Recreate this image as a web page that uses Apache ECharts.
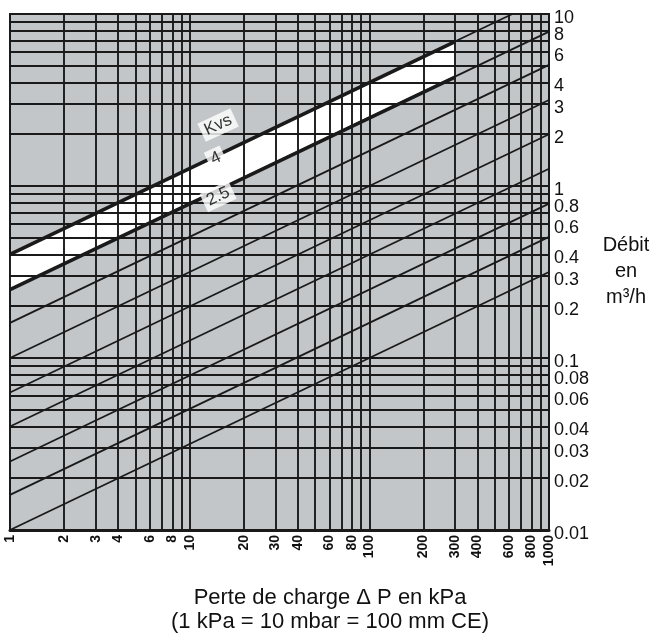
<!DOCTYPE html>
<html><head><meta charset="utf-8">
<script src="https://cdn.jsdelivr.net/npm/echarts@6/dist/echarts.min.js"></script>
<style>html,body{margin:0;padding:0;background:#fff}#c{width:652px;height:639px}</style>
</head><body><div id="c"></div>
<script>
// grid lines (log minor grid) and tick labels
const xGridValues = [1,2,3,4,5,6,7,8,9,10,20,30,40,50,60,70,80,90,100,200,300,400,500,600,700,800,900,1000];
const xTickLabels = [1,2,3,4,6,8,10,20,30,40,60,80,100,200,300,400,600,800,1000];
const yGridValues = [0.01,0.02,0.03,0.04,0.05,0.06,0.07,0.08,0.09,0.1,0.2,0.3,0.4,0.5,0.6,0.7,0.8,0.9,1,2,3,4,5,6,7,8,9,10];
const yTickLabels = [0.01,0.02,0.03,0.04,0.06,0.08,0.1,0.2,0.3,0.4,0.6,0.8,1,2,3,4,6,10];
const yTickLabelsExtra = [8];

// Kvs lines: read end points (ΔP in kPa, flow in m3/h)
const kvsNames    = ['0.1','0.16','0.25','0.4','0.63','1','1.6','2.5','4'];
const lineStartDP = [1,1,1,1,1,1,1,1,1];
const lineStartQ  = [0.01,0.016,0.025,0.04,0.063,0.1,0.16,0.25,0.4];
const lineEndDP   = [1000,1000,1000,1000,1000,1000,1000,1000,625];
const lineEndQ    = [0.316,0.506,0.79,1.26,2.0,3.16,5.06,7.9,10];

// highlighted band between Kvs 4 and Kvs 2.5
const bandDP     = [1,300];
const bandUpperQ = [0.4,6.9];
const bandLowerQ = [0.25,4.3];

// in-chart labels
const kvsLabelTexts = ['Kvs','4','2.5'];
const kvsLabelDP    = [14.4,14,14.4];
const kvsLabelQ     = [2.26,1.45,0.87];

const FONT = 'Liberation Sans, Arial, sans-serif';
const DARK = '#1a1a1a';

const series = [];
series.push({
  type: 'custom', z: 1, silent: true,
  data: [0],
  renderItem: function (params, api) {
    const pts = [
      api.coord([bandDP[0], bandUpperQ[0]]),
      api.coord([bandDP[1], bandUpperQ[1]]),
      api.coord([bandDP[1], bandLowerQ[1]]),
      api.coord([bandDP[0], bandLowerQ[0]])
    ];
    return { type: 'polygon', shape: { points: pts }, style: { fill: '#ffffff' } };
  }
});
kvsNames.forEach(function (n, i) {
  series.push({
    type: 'line', name: 'Kvs ' + n, z: 4, silent: true, symbol: 'none',
    data: [[lineStartDP[i], lineStartQ[i]], [lineEndDP[i], lineEndQ[i]]],
    lineStyle: { color: DARK, width: 1.8 }
  });
});
series.push({
  type: 'line', z: 4, silent: true, symbol: 'none',
  data: [[bandDP[0], bandUpperQ[0]], [bandDP[1], bandUpperQ[1]]],
  lineStyle: { color: DARK, width: 3.6 }
});
series.push({
  type: 'line', z: 4, silent: true, symbol: 'none',
  data: [[bandDP[0], bandLowerQ[0]], [bandDP[1], bandLowerQ[1]]],
  lineStyle: { color: DARK, width: 3.6 }
});
series.push({
  type: 'scatter', z: 10, silent: true, symbolSize: 0,
  data: kvsLabelTexts.map(function (t, i) { return { value: [kvsLabelDP[i], kvsLabelQ[i]], name: t }; }),
  label: {
    show: true, position: 'inside', rotate: 25,
    formatter: function (p) { return p.name; },
    backgroundColor: '#ffffff', padding: [2, 4, 1, 4],
    color: '#000', fontSize: 17, fontFamily: FONT
  }
});

function fmt(v) { return String(+Number(v).toPrecision(6)); }
function fmtY(v) { return '{a|' + fmt(v) + '}'; }

const yLabelStyle = { margin: 5, fontSize: 18, color: '#111', fontFamily: FONT, formatter: fmtY,
                      rich: { a: { fontSize: 18, color: '#111', fontFamily: FONT, padding: [8, 0, 0, 0] } },
                      showMinLabel: true, showMaxLabel: true, hideOverlap: false };

const option = {
  animation: false,
  backgroundColor: '#ffffff',
  grid: { left: 10, right: 103, top: 14, bottom: 109, show: true,
          backgroundColor: '#c3c6c8', borderColor: DARK, borderWidth: 2 },
  xAxis: {
    type: 'log', logBase: 10, min: 1, max: 1000, z: 3,
    axisLine: { show: true, lineStyle: { color: DARK, width: 3 } },
    axisTick: { show: false, customValues: xGridValues },
    axisLabel: { customValues: xTickLabels, rotate: 90, margin: 5, fontSize: 14, fontWeight: 'bold',
                 showMinLabel: true, showMaxLabel: true, hideOverlap: false,
                 color: '#111', fontFamily: FONT, formatter: fmt },
    splitLine: { show: true, lineStyle: { color: DARK, width: 1.9 } },
    minorSplitLine: { show: false }
  },
  yAxis: [{
    type: 'log', logBase: 10, min: 0.01, max: 10, position: 'right', z: 3,
    axisLine: { show: true, lineStyle: { color: DARK, width: 2 } },
    axisTick: { show: false, customValues: yGridValues },
    axisLabel: Object.assign({ customValues: yTickLabels }, yLabelStyle),
    splitLine: { show: true, lineStyle: { color: DARK, width: 1.9 } }
  }, {
    type: 'log', logBase: 10, min: 0.01, max: 10, position: 'right', z: 3,
    axisLine: { show: false }, axisTick: { show: false, customValues: yTickLabelsExtra },
    axisLabel: Object.assign({ customValues: yTickLabelsExtra }, yLabelStyle),
    splitLine: { show: false }
  }],
  graphic: [
    { type: 'text', x: 626, y: 245, style: { text: 'Débit', align: 'center', verticalAlign: 'middle', fontSize: 20, fontFamily: FONT, fill: '#111' } },
    { type: 'text', x: 626, y: 271, style: { text: 'en', align: 'center', verticalAlign: 'middle', fontSize: 20, fontFamily: FONT, fill: '#111' } },
    { type: 'text', x: 626, y: 297, style: { text: 'm³/h', align: 'center', verticalAlign: 'middle', fontSize: 20, fontFamily: FONT, fill: '#111' } },
    { type: 'text', x: 330, y: 598, style: { text: 'Perte de charge Δ P en kPa', align: 'center', verticalAlign: 'middle', fontSize: 22, fontFamily: FONT, fill: '#111' } },
    { type: 'text', x: 330, y: 622, style: { text: '(1 kPa = 10 mbar = 100 mm CE)', align: 'center', verticalAlign: 'middle', fontSize: 22, fontFamily: FONT, fill: '#111' } }
  ],
  series: series
};
const chart = echarts.init(document.getElementById('c'), null, { renderer: 'canvas' });
chart.setOption(option);
</script></body></html>
